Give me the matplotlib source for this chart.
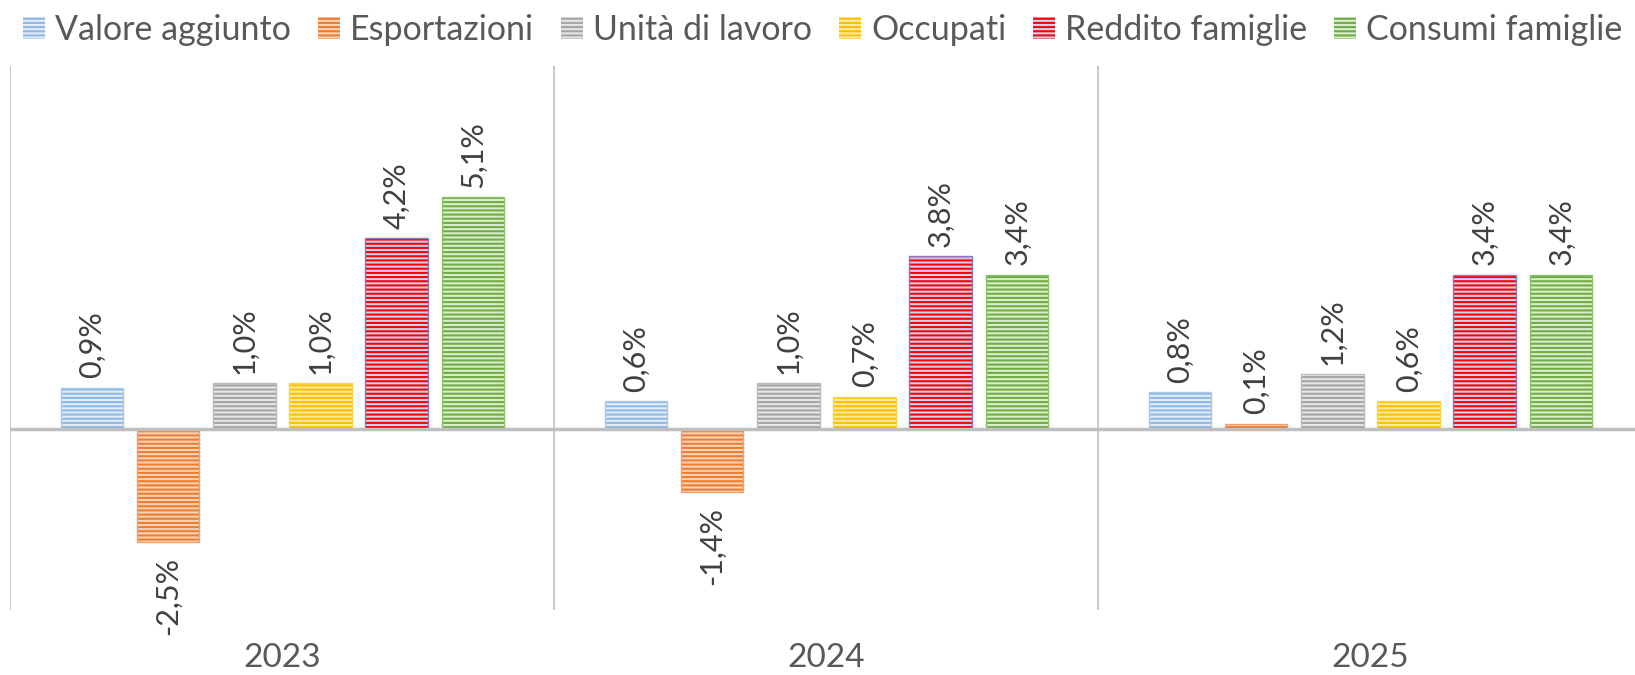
import matplotlib
matplotlib.use("Agg")
import matplotlib.pyplot as plt
from matplotlib.patches import Patch

years = ["2023", "2024", "2025"]
series = ["Valore aggiunto", "Esportazioni", "Unità di lavoro", "Occupati",
          "Reddito famiglie", "Consumi famiglie"]
valore_aggiunto = [0.9, 0.6, 0.8]
esportazioni = [-2.5, -1.4, 0.1]
unita_lavoro = [1.0, 1.0, 1.2]
occupati = [1.0, 0.7, 0.6]
reddito_famiglie = [4.2, 3.8, 3.4]
consumi_famiglie = [5.1, 3.4, 3.4]
values = [valore_aggiunto, esportazioni, unita_lavoro, occupati,
          reddito_famiglie, consumi_famiglie]

stripe = ["#8FB8E6", "#ED7D31", "#A5A5A5", "#FFC000", "#FF0000", "#70AD47"]
face = ["#E2EDF8", "#F9D3B8", "#E6E6E6", "#FFE9A6", "#C9D3EF", "#DAEDCC"]
border = ["#A9C8EA", "#F0A070", "#BDBDBD", "#FFD24D", "#8A7CC0", "#8FC06C"]

plt.rcParams["font.family"] = ["Lato", "DejaVu Sans"]
plt.rcParams["hatch.linewidth"] = 1.5

W, H = 1635, 675
fig = plt.figure(figsize=(W / 100, H / 100), dpi=100)
left = 10.4 / W
width = 3 * 544.0 / W
bottom = 1 - 610 / H
top = 1 - 66 / H
ax = fig.add_axes([left, bottom, width, top - bottom])

step = 73 / 521
bw = 60 / 521
x = list(range(len(years)))
for i, (name, vals) in enumerate(zip(series, values)):
    off = (i - 2.5) * step
    xs = [xi + off for xi in x]
    ax.bar(xs, vals, bw, color=face[i], edgecolor=stripe[i], linewidth=0,
           hatch="----", zorder=2)
    ax.bar(xs, vals, bw, fill=False, edgecolor=border[i], linewidth=1.0, zorder=3)
    for xx, v in zip(xs, vals):
        lab = f"{v:.1f}%".replace(".", ",")
        if v >= 0:
            ax.annotate(lab, (xx, v), xytext=(0, 7), textcoords="offset points",
                        rotation=90, ha="center", va="bottom", fontsize=22,
                        color="#404040")
        else:
            ax.annotate(lab, (xx, v), xytext=(0, -11), textcoords="offset points",
                        rotation=90, ha="center", va="top", fontsize=22,
                        color="#404040")

ax.set_xlim(-0.5, 2.5)
ax.set_ylim(-4, 8)
ax.axhline(0, color="#BFBFBF", lw=2.5, zorder=4)
for b in [-0.5, 0.5, 1.5, 2.5]:
    ax.axvline(b, color="#BFBFBF", lw=1.2, zorder=1)
for s in ax.spines.values():
    s.set_visible(False)
ax.set_yticks([])
ax.set_xticks(x)
ax.set_xticklabels(years, fontsize=24, color="#595959")
ax.tick_params(axis="x", length=0, pad=24)

handles = [Patch(facecolor=face[i], edgecolor=stripe[i], linewidth=0,
                 hatch="----", label=series[i]) for i in range(len(series))]
fig.legend(handles=handles, loc="center left", bbox_to_anchor=(23 / W, 1 - 30 / H),
           ncol=6, frameon=False, fontsize=24.5, handlelength=0.65,
           handleheight=0.65, handletextpad=0.3, columnspacing=0.78,
           labelcolor="#595959", borderaxespad=0, borderpad=0)

fig.savefig("out.png", dpi=100)
